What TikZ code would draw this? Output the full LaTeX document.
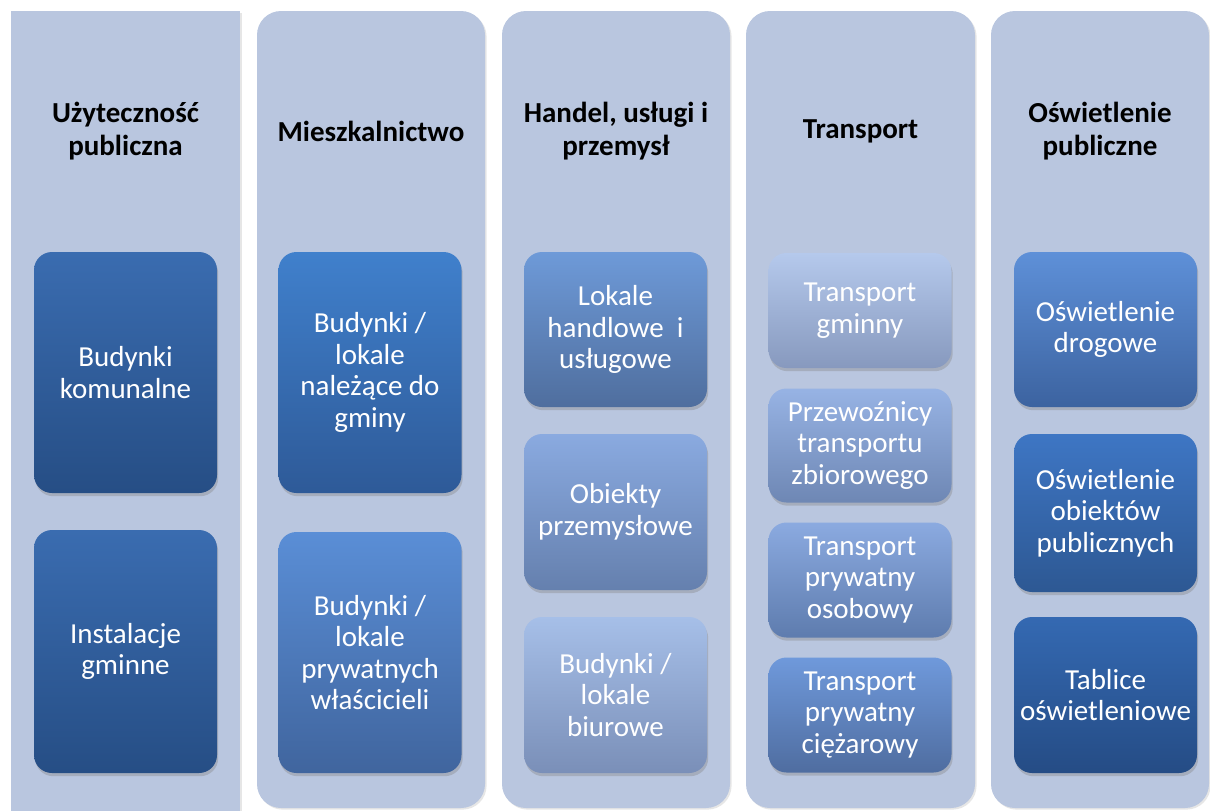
\documentclass[tikz,border=0pt]{standalone}
\usepackage{fontspec}
\setmainfont{Carlito}
\usetikzlibrary{shadows,positioning}

\definecolor{tlo}{HTML}{B9C6DF}

\tikzset{
  kolumna/.style={fill=tlo, drop shadow={shadow xshift=0.8pt, shadow yshift=-0.8pt, opacity=.2}},
  naglowek/.style={font=\fontsize{14.5}{16.5}\selectfont\bfseries, align=center, text=black},
  pole/.style n args={2}{/utils/exec={\definecolor{gora}{HTML}{#1}\definecolor{dol}{HTML}{#2}},
    rounded corners=9pt, top color=gora, bottom color=dol,
    minimum width=91.5pt, inner sep=0pt, text=white, align=center,
    font=\fontsize{14.5}{15.8}\selectfont,
    drop shadow={shadow xshift=0.6pt, shadow yshift=-1.6pt, opacity=.35}},
}

\begin{document}
\begin{tikzpicture}[x=0.5pt, y=-0.5pt]
\useasboundingbox (0,0) rectangle (1210,810);

% tla kolumn
\fill[kolumna] (11,11) rectangle (240,812);
\foreach \xl/\xr in {257/485, 502/730, 746/975, 991/1209}
  \fill[kolumna, rounded corners=12pt] (\xl,11) rectangle (\xr,808);

% naglowki
\node[naglowek] (Nuzy) at (125.5,131) {Użyteczność\\publiczna};
\node[naglowek] (Nmie) at (371,131) {Mieszkalnictwo};
\node[naglowek] (Nhan) at (616,131) {Handel, usługi i\\przemysł};
\node[naglowek] (Ntra) at (860.5,131) {Transport};
\node[naglowek] (Nosw) at (1100,131) {Oświetlenie\\publiczne};

% uzytecznosc publiczna
\node[pole={3A6CB0}{264E85}, minimum height=120.5pt] (Ukom) at (125.5,372.5) {Budynki\\komunalne};
\node[pole={3A6CB0}{264E85}, minimum height=121.5pt] (Uins) at (125.5,651.5) {Instalacje\\gminne};

% mieszkalnictwo
\node[pole={4080CC}{2E5A98}, minimum height=120.5pt] (Mgmi) at (370,372.5) {Budynki /\\lokale\\należące do\\gminy};
\node[pole={5A8ED6}{40659E}, minimum height=120.5pt] (Mpry) at (370,652.5) {Budynki /\\lokale\\prywatnych\\właścicieli};

% handel, uslugi i przemysl
\node[pole={6E9AD8}{4F6E9E}, minimum height=77.5pt] (Hlok) at (615.5,329.5) {Lokale\\handlowe \ i\\usługowe};
\node[pole={8AAAE0}{6580AE}, minimum height=78pt] (Hprz) at (615.5,512) {Obiekty\\przemysłowe};
\node[pole={A6BFE8}{7A8FB8}, minimum height=78pt] (Hbiu) at (615.5,695) {Budynki /\\lokale\\biurowe};

% transport
\node[pole={B5C9EC}{8799BE}, minimum height=57.5pt] (Tgmi) at (860,310.5) {Transport\\gminny};
\node[pole={97B3E4}{6E87B4}, minimum height=57pt] (Tzbi) at (860,445.5) {Przewoźnicy\\transportu\\zbiorowego};
\node[pole={8BAAE0}{5E7CAE}, minimum height=57.5pt] (Toso) at (860,580) {Transport\\prywatny\\osobowy};
\node[pole={6F99DB}{4F6DA0}, minimum height=57.5pt] (Tcie) at (860,715) {Transport\\prywatny\\ciężarowy};

% oswietlenie publiczne
\node[pole={5E90D8}{3C63A0}, minimum height=77.5pt] (Odro) at (1105.5,329.5) {Oświetlenie\\drogowe};
\node[pole={3E76C4}{2D5893}, minimum height=79pt] (Oobi) at (1105.5,513) {Oświetlenie\\obiektów\\publicznych};
\node[pole={3469B2}{254C85}, minimum height=78pt] (Otab) at (1105.5,695) {Tablice\\oświetleniowe};
\end{tikzpicture}
\end{document}
